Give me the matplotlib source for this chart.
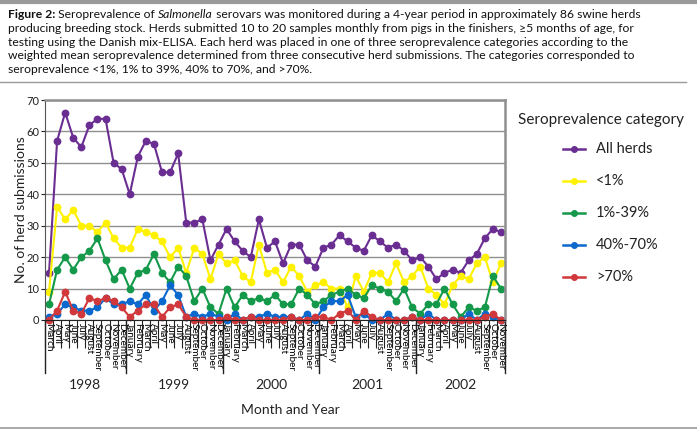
import numpy as np
import matplotlib
matplotlib.use("Agg")
import matplotlib.pyplot as plt
from matplotlib.lines import Line2D
from matplotlib.transforms import IdentityTransform, blended_transform_factory

# monthly data, March 1998 .. November 2002
months = ["March", "April", "May", "June", "July", "August", "September", "October", "November", "December",
          "January", "February", "March", "April", "May", "June", "July", "August", "September", "October", "November", "December",
          "January", "February", "March", "April", "May", "June", "July", "August", "September", "October", "November", "December",
          "January", "February", "March", "April", "May", "June", "July", "August", "September", "October", "November", "December",
          "January", "February", "March", "April", "May", "June", "July", "August", "September", "October", "November"]
years = ["1998", "1999", "2000", "2001", "2002"]
year_start = [0, 10, 22, 34, 46]

all_herds = [15, 57, 66, 58, 55, 62, 64, 64, 50, 48, 40, 52, 57, 56, 47, 47, 53, 31, 31, 32,
             19, 24, 29, 25, 22, 20, 32, 23, 25, 18, 24, 24, 19, 17, 23, 24, 27, 25, 23, 22,
             27, 25, 23, 24, 22, 19, 20, 17, 13, 15, 16, 15, 19, 21, 26, 29, 28]
below_1 = [9, 36, 32, 35, 30, 30, 28, 31, 26, 23, 23, 29, 28, 27, 25, 20, 23, 15, 23, 21,
           13, 21, 18, 19, 14, 12, 24, 15, 16, 12, 17, 14, 9, 11, 12, 10, 10, 4, 14, 9,
           15, 15, 12, 18, 12, 14, 17, 10, 8, 5, 11, 14, 13, 18, 20, 12, 18]
p1_39 = [5, 16, 20, 16, 20, 22, 26, 19, 13, 16, 10, 15, 16, 21, 15, 12, 17, 14, 6, 10,
         4, 2, 10, 4, 8, 6, 7, 6, 8, 5, 5, 10, 8, 5, 6, 8, 9, 10, 8, 7,
         11, 10, 9, 6, 10, 4, 2, 5, 5, 10, 5, 1, 4, 3, 4, 14, 10]
p40_70 = [1, 2, 5, 4, 3, 3, 4, 7, 5, 5, 6, 5, 8, 3, 6, 11, 8, 1, 2, 1,
          2, 1, 0, 2, 0, 1, 1, 2, 1, 1, 1, 0, 2, 0, 4, 6, 6, 8, 1, 2,
          0, 0, 2, 0, 0, 1, 0, 2, 0, 0, 0, 0, 2, 0, 2, 1, 0]
above_70 = [0, 3, 9, 3, 2, 7, 6, 7, 6, 4, 1, 3, 5, 5, 1, 4, 5, 1, 0, 0,
            0, 0, 1, 0, 0, 1, 0, 0, 0, 0, 1, 0, 0, 1, 1, 0, 2, 3, 0, 3,
            1, 0, 0, 0, 0, 1, 0, 0, 0, 0, 0, 0, 0, 0, 1, 2, 0]

series = [("All herds", all_herds, "#6a2d92"),
          ("<1%", below_1, "#fff200"),
          ("1%-39%", p1_39, "#14994a"),
          ("40%-70%", p40_70, "#0b68cc"),
          (">70%", above_70, "#d0383b")]

plt.rcParams["font.family"] = ["Lato", "DejaVu Sans"]
W, H = 697, 429
fig = plt.figure(figsize=(W / 100, H / 100), dpi=100)
pix = IdentityTransform()

# caption
caption = [
    [("Figure 2:", "bold", "normal"), (" Seroprevalence of ", "normal", "normal"), ("Salmonella", "normal", "italic"),
     (" serovars was monitored during a 4-year period in approximately 86 swine herds", "normal", "normal")],
    [("producing breeding stock. Herds submitted 10 to 20 samples monthly from pigs in the finishers, \u22655 months of age, for", "normal", "normal")],
    [("testing using the Danish mix-ELISA. Each herd was placed in one of three seroprevalence categories according to the", "normal", "normal")],
    [("weighted mean seroprevalence determined from three consecutive herd submissions. The categories corresponded to", "normal", "normal")],
    [("seroprevalence <1%, 1% to 39%, 40% to 70%, and >70%.", "normal", "normal")],
]
renderer = fig.canvas.get_renderer()
for k, line in enumerate(caption):
    x = 8
    y = H - (18.5 + k * 13.6)
    for text, weight, style in line:
        t = fig.text(x, y, text, transform=pix, fontsize=8.75, fontweight=weight, fontstyle=style,
                     va="baseline", ha="left", color="#111111")
        x = t.get_window_extent(renderer).x1

fig.add_artist(Line2D([0, W], [H - 1.5, H - 1.5], transform=pix, color="#9a9a9a", lw=3))
fig.add_artist(Line2D([0, 686], [H - 82, H - 82], transform=pix, color="#9a9a9a", lw=1))
fig.add_artist(Line2D([0, W], [1, 1], transform=pix, color="#9a9a9a", lw=1.2))

# plot area
ax = fig.add_axes([45 / W, 1 - 320 / H, 460 / W, 220 / H])
x = np.arange(len(months))
for name, vals, col in series:
    ax.plot(x, vals, color=col, lw=1.5, marker="o", ms=4.6, label=name, clip_on=False)

ax.set_xlim(-0.5, len(months) - 0.5)
ax.set_ylim(0, 70)
ax.set_yticks(range(0, 71, 10))
ax.yaxis.grid(True, color="#8f8f8f", lw=1)
ax.set_axisbelow(True)
for s in ["top", "right"]:
    ax.spines[s].set_color("#8f8f8f")
    ax.spines[s].set_linewidth(1.8)
ax.spines["left"].set_color("#555555")
ax.spines["bottom"].set_color("#222222")
ax.tick_params(axis="y", labelsize=8, length=3, pad=1, colors="#222222")
ax.set_ylabel("No. of herd submissions", fontsize=10, color="#222222")
ax.yaxis.set_label_coords(-18 / 460, 0.5)

ax.set_xticks(x, months, rotation=-90, fontsize=7.2)
ax.tick_params(axis="x", which="major", length=0, pad=2)
ax.set_xticks(np.arange(-0.5, len(months), 1), minor=True)
ax.tick_params(axis="x", which="minor", length=20, width=0.8, color="#222222")

tr = blended_transform_factory(ax.transData, ax.transAxes)
bounds = year_start + [len(months)]
for b in bounds:
    ax.add_line(Line2D([b - 0.5, b - 0.5], [0, -53 / 220], transform=tr, color="#222222", lw=1, clip_on=False))
for i, yr in enumerate(years):
    ax.text((bounds[i] + bounds[i + 1] - 1) / 2, -65 / 220, yr, transform=tr, ha="center", va="center",
            fontsize=10, color="#222222")
ax.text(290, H - 410, "Month and Year", transform=pix, ha="center", va="center", fontsize=10, color="#222222")

# legend
fig.text(518, H - 120, "Seroprevalence category", transform=pix, fontsize=11, va="center", ha="left", color="#222222")
for i, (name, vals, col) in enumerate(series):
    yy = H - (149 + i * 32)
    fig.add_artist(Line2D([563, 585], [yy, yy], transform=pix, color=col, lw=1.8))
    fig.add_artist(Line2D([574], [yy], transform=pix, color=col, marker="o", ms=4))
    fig.text(596, yy, name, transform=pix, fontsize=10.5, va="center", ha="left", color="#222222")

fig.savefig("out.png", dpi=100)
